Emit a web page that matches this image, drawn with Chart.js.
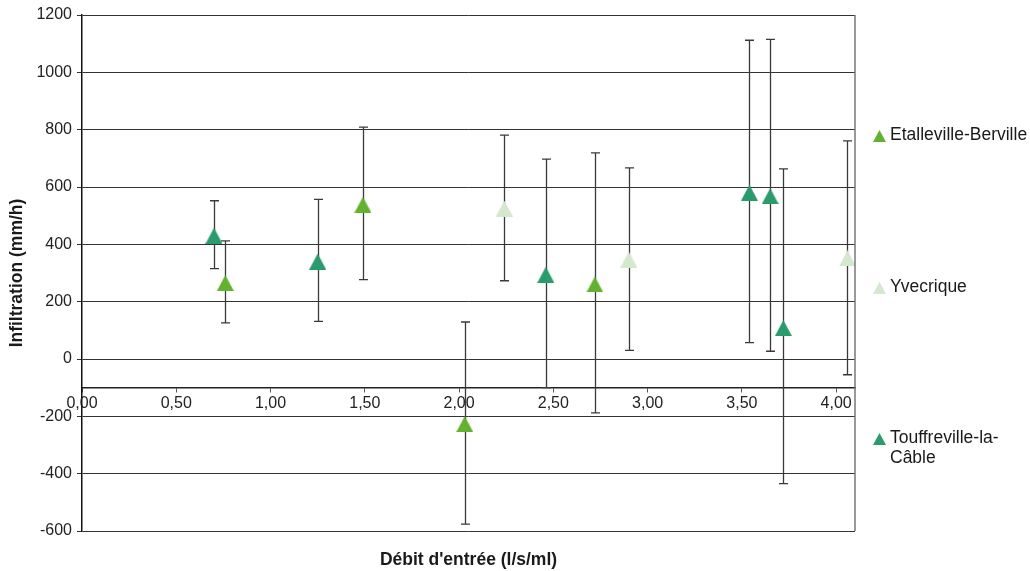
<!DOCTYPE html>
<html>
<head>
<meta charset="utf-8">
<script src="https://cdn.jsdelivr.net/npm/chart.js@4"></script>
<style>
  body { margin: 0; background: #fff; }
  canvas { display: block; }
</style>
</head>
<body>
<canvas id="chart" width="1030" height="571"></canvas>
<script>
// series names and colours
const seriesNames = ['Etalleville-Berville', 'Yvecrique', 'Touffreville-la-Câble'];
const seriesColors = ['#63b22f', '#d3e8cd', '#2a9b6c'];

// Etalleville-Berville
const etalX = [0.76, 1.49, 2.03, 2.72];
const etalY = [265, 538, -227, 260];
const etalLow = [126, 277, -576, -188];
const etalHigh = [412, 809, 129, 719];

// Yvecrique
const yvecX = [2.24, 2.90, 4.06];
const yvecY = [525, 347, 351];
const yvecLow = [273, 30, -55];
const yvecHigh = [781, 667, 761];

// Touffreville-la-Câble
const toufX = [0.70, 1.25, 2.46, 3.54, 3.65, 3.72];
const toufY = [430, 340, 294, 580, 568, 108];
const toufLow = [315, 131, -100, 57, 27, -435];
const toufHigh = [552, 557, 697, 1112, 1115, 663];

const xTitle = "Débit d'entrée (l/s/ml)";
const yTitle = 'Infiltration (mm/h)';
const FONT = "'Liberation Sans', Arial, Helvetica, sans-serif";

function triangleImage(color, w, h) {
    const c = document.createElement('canvas');
    c.width = w;
    c.height = h;
    const g = c.getContext('2d');
    g.fillStyle = color;
    g.beginPath();
    g.moveTo(0, h);
    g.lineTo(w / 2, 0);
    g.lineTo(w, h);
    g.closePath();
    g.fill();
    return c;
}

function makeDataset(i, xs, ys, lows, highs) {
    return {
        label: seriesNames[i],
        data: xs.map((x, k) => ({ x: x, y: ys[k], low: lows[k], high: highs[k] })),
        pointStyle: triangleImage(seriesColors[i], 17, 16),
        backgroundColor: seriesColors[i],
        borderColor: seriesColors[i],
        showLine: false
    };
}

const errorBars = {
    id: 'errorBars',
    beforeDatasetsDraw(chart) {
        const ctx = chart.ctx;
        const xs = chart.scales.x, ys = chart.scales.y;
        ctx.save();
        ctx.strokeStyle = '#3a3a3a';
        ctx.lineWidth = 1.3;
        chart.data.datasets.forEach(ds => {
            ds.data.forEach(p => {
                const px = Math.round(xs.getPixelForValue(p.x)) + 0.5;
                const top = ys.getPixelForValue(p.high);
                const bot = ys.getPixelForValue(p.low);
                ctx.beginPath();
                ctx.moveTo(px, top);
                ctx.lineTo(px, bot);
                ctx.moveTo(px - 4.5, top);
                ctx.lineTo(px + 4.5, top);
                ctx.moveTo(px - 4.5, bot);
                ctx.lineTo(px + 4.5, bot);
                ctx.stroke();
            });
        });
        ctx.restore();
    }
};

const extras = {
    id: 'extras',
    afterDraw(chart) {
        const ctx = chart.ctx;
        const area = chart.chartArea;
        ctx.save();
        // right border of the plot
        ctx.strokeStyle = '#777';
        ctx.lineWidth = 1.5;
        ctx.beginPath();
        ctx.moveTo(area.right, area.top);
        ctx.lineTo(area.right, area.bottom);
        ctx.stroke();

        // axis titles
        ctx.fillStyle = '#1a1a1a';
        ctx.font = 'bold 17.5px ' + FONT;
        ctx.textAlign = 'center';
        ctx.textBaseline = 'middle';
        ctx.fillText(xTitle, (area.left + area.right) / 2, 560);
        ctx.save();
        ctx.translate(17, (area.top + area.bottom) / 2);
        ctx.rotate(-Math.PI / 2);
        ctx.fillText(yTitle, 0, 0);
        ctx.restore();

        // legend
        const legendRows = [[135], [287], [438, 458]];
        const legendText = [['Etalleville-Berville'], ['Yvecrique'], ['Touffreville-la-', 'Câble']];
        ctx.font = '17.5px ' + FONT;
        ctx.textAlign = 'left';
        legendRows.forEach((rows, i) => {
            ctx.fillStyle = seriesColors[i];
            ctx.beginPath();
            ctx.moveTo(873, rows[0] + 7);
            ctx.lineTo(879.5, rows[0] - 5);
            ctx.lineTo(886, rows[0] + 7);
            ctx.closePath();
            ctx.fill();
            ctx.fillStyle = '#1a1a1a';
            rows.forEach((ry, k) => ctx.fillText(legendText[i][k], 890, ry));
        });
        ctx.restore();
    }
};

const ctx = document.getElementById('chart').getContext('2d');

const chart = new Chart(ctx, {
    type: 'scatter',
    data: {
        datasets: [
            makeDataset(0, etalX, etalY, etalLow, etalHigh),
            makeDataset(1, yvecX, yvecY, yvecLow, yvecHigh),
            makeDataset(2, toufX, toufY, toufLow, toufHigh)
        ]
    },
    options: {
        responsive: false,
        animation: false,
        layout: { padding: { top: 15, right: 175, bottom: 40, left: 0 } },
        elements: { point: { radius: 8, hoverRadius: 8 } },
        plugins: {
            legend: { display: false },
            tooltip: { enabled: false }
        },
        scales: {
            x: {
                type: 'linear',
                position: { y: -100 },
                min: 0,
                max: 4.1,
                grid: { display: true, drawOnChartArea: false, tickLength: 4, color: '#555' },
                border: { display: true, color: '#222', width: 1.5 },
                ticks: {
                    stepSize: 0.5,
                    includeBounds: false,
                    autoSkip: false,
                    maxRotation: 0,
                    padding: 2,
                    color: '#222',
                    font: { family: FONT, size: 16 },
                    callback: v => v.toFixed(2).replace('.', ',')
                }
            },
            y: {
                min: -600,
                max: 1200,
                afterFit(scale) { scale.width = 82; },
                grid: { color: '#333', lineWidth: 1, tickLength: 5, tickColor: '#333' },
                border: { color: '#111', width: 1.5 },
                ticks: {
                    stepSize: 200,
                    padding: 5,
                    color: '#222',
                    font: { family: FONT, size: 16 },
                    callback: v => String(v)
                }
            }
        }
    },
    plugins: [errorBars, extras]
});
</script>
</body>
</html>
